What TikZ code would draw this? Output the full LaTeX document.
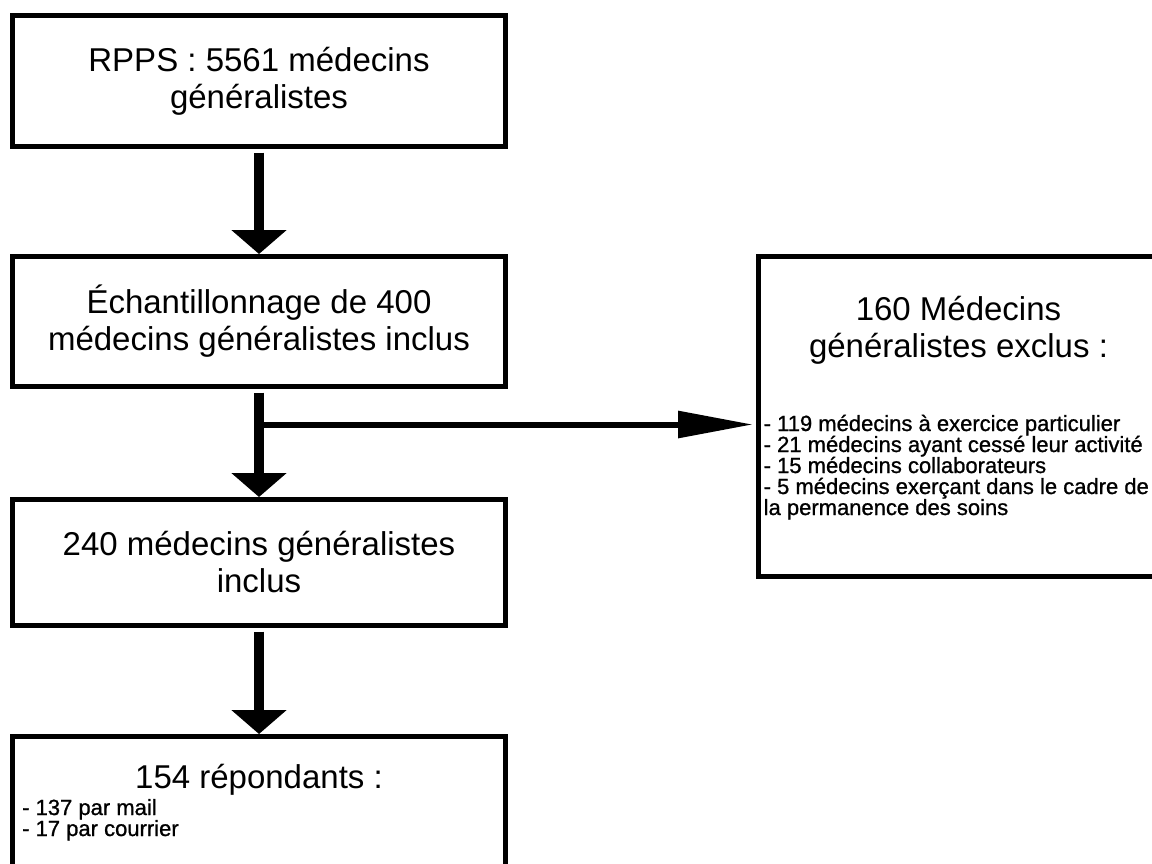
\documentclass[tikz,border=0pt]{standalone}
\usepackage{fontspec}
\setmainfont{Liberation Sans}
\newfontfamily\itemfont[FakeBold=1]{Liberation Sans}
\usepackage{tikz}
\usetikzlibrary{arrows.meta,positioning,calc}

\begin{document}
\begin{tikzpicture}[x=1pt, y=1pt,
    box/.style={rectangle, draw, line width=5pt, outer sep=0pt, minimum width=493pt, text centered, align=center, font=\fontsize{33}{37}\selectfont},
    sidebox/.style={rectangle, draw, line width=5pt, outer sep=0pt, minimum width=400pt, minimum height=320pt},
    title/.style={inner sep=0pt, align=center, font=\fontsize{33}{37}\selectfont},
    items/.style={inner sep=0pt, align=left, font=\itemfont\fontsize{22}{21}\selectfont},
    varrow/.style={-{Triangle[length=24pt, width=54pt]}, line width=10pt, shorten <=6pt, shorten >=2.5pt},
    harrow/.style={-{Triangle[length=75pt, width=26pt]}, line width=6pt}]

    \clip (0,0) rectangle (1152,-863);

    % Main column
    \node[box, minimum height=131pt] (rpps) at (259,-81) {RPPS : 5561 médecins\\généralistes};
    \node[box, minimum height=130pt, below=110pt of rpps] (echant) {Échantillonnage de 400\\médecins généralistes inclus};
    \node[box, minimum height=126pt, below=113pt of echant] (inclus) {240 médecins généralistes\\inclus};
    \node[box, minimum height=160pt, below=111pt of inclus] (repond) {};
    \node[title, below=52pt of repond.north, anchor=base] (repondtitle) {154 répondants :};
    % base = last line
    \node[items, below right=99.5pt and 9.5pt of repond.north west, anchor=base west] (repondlist) {- 137 par mail\\- 17 par courrier};

    % Excluded
    \node[sidebox, right=253pt of echant.north east, anchor=north west] (exclus) {};
    \node[title, below=100.5pt of exclus.north, anchor=base] (exclustitle) {160 Médecins\\généralistes exclus :};
    \node[items, below right=258.5pt and 5pt of exclus.north west, anchor=base west] (excluslist) {- 119 médecins à exercice particulier\\- 21 médecins ayant cessé leur activité\\- 15 médecins collaborateurs\\- 5 médecins exerçant dans le cadre de\\la permanence des soins};

    % Arrows
    \draw[varrow] (rpps) -- (echant);
    \draw[varrow] (echant) -- (inclus);
    \draw[varrow] (inclus) -- (repond);
    \coordinate (branch) at ($(echant.south)+(0,-38)$);
    \draw[harrow, shorten >=5.5pt] (branch) -- (branch -| exclus.west);

\end{tikzpicture}
\end{document}
